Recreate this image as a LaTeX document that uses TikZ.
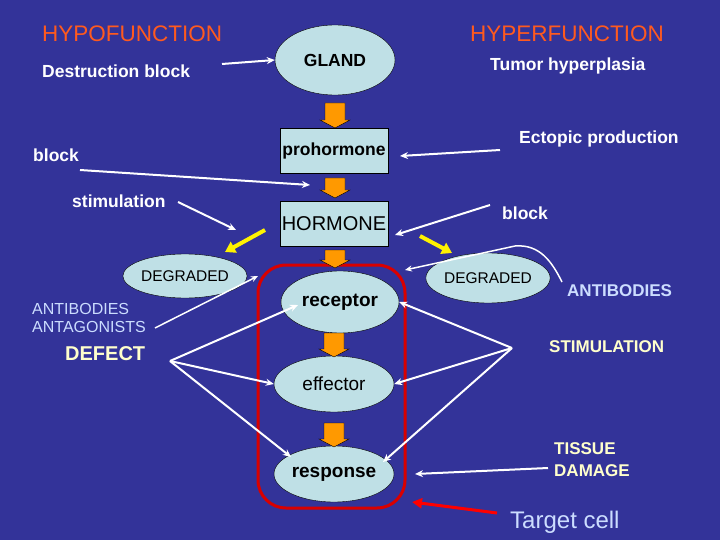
\documentclass[tikz,border=0pt]{standalone}
\usepackage{fontspec}
\setmainfont{Liberation Sans}
\usetikzlibrary{shapes.geometric,arrows.meta}
\definecolor{bg}{HTML}{333399}
\definecolor{box}{HTML}{BFE0E6}
\definecolor{lblue}{HTML}{CCDDFF}
\definecolor{lyel}{HTML}{FFFFCC}
\definecolor{hyp}{HTML}{FF5A1E}
\definecolor{org}{HTML}{FF9900}
\begin{document}
\begin{tikzpicture}[x=1pt,y=-1pt,
  ell/.style={ellipse,draw=black,fill=box,inner sep=0pt},
  rbox/.style={rectangle,draw=black,fill=box,inner sep=0pt},
  lab/.style={text=white,font=\fontsize{17.5}{20}\selectfont\bfseries,inner sep=0pt},
  arr/.style={white,line width=2pt,-{Stealth[length=8pt,width=7pt]}},
  yarr/.style={yellow,line width=4pt,-{Triangle[length=10pt,width=12pt]}},
  ttl/.style={text=hyp,font=\fontsize{22.5}{26}\selectfont,inner sep=0pt}]
\fill[bg] (0,0) rectangle (720,540);
\useasboundingbox (0,0) rectangle (720,540);
\newcommand\blockarr[3]{\fill[org,draw=black,line width=0.4pt] (#1-10,#2) -- (#1+10,#2) -- (#1+10,#3-8) -- (#1+15,#3-8) -- (#1,#3) -- (#1-15,#3-8) -- (#1-10,#3-8) -- cycle;}
% titles
\node[ttl,anchor=west] (hypo) at (42,34) {HYPOFUNCTION};
\node[ttl,anchor=west] (hyper) at (470,34) {HYPERFUNCTION};
% main chain
\node[ell,minimum width=120,minimum height=70,font=\fontsize{17.5}{20}\selectfont\bfseries] (gland) at (335,60) {GLAND};
\node[rbox,minimum width=108,minimum height=45,font=\fontsize{17.5}{20}\selectfont\bfseries] (pro) at (334,151) {prohormone};
\node[rbox,minimum width=108,minimum height=45,font=\fontsize{20}{24}\selectfont] (hor) at (334,224) {HORMONE};
\draw[red!85!black,line width=3pt,rounded corners=28pt] (258,265) rectangle (405,508);
\node[ell,minimum width=118,minimum height=62,font=\fontsize{19}{22}\selectfont\bfseries] (rec) at (340,302) {receptor};
\node[ell,minimum width=120,minimum height=56,font=\fontsize{19}{22}\selectfont] (eff) at (334,384) {effector};
\node[ell,minimum width=120,minimum height=56,font=\fontsize{19}{22}\selectfont\bfseries] (resp) at (334,474) {response};
\node[ell,minimum width=100,minimum height=44,font=\fontsize{15.5}{18}\selectfont] (degl) at (185,276) {DEGRADED};
\node[ell,minimum width=95,minimum height=50,font=\fontsize{15.5}{18}\selectfont] (degr) at (488,278) {DEGRADED};
\blockarr{335}{103}{128}
\blockarr{335}{178}{198}
\blockarr{335}{250}{268}
\blockarr{334}{333}{357}
\blockarr{334}{423}{447}
% labels
\node[lab,anchor=west] (destr) at (42,71) {Destruction block};
\node[lab,anchor=west] (tumor) at (490,66) {Tumor hyperplasia};
\node[lab,anchor=west] (ecto) at (519,139) {Ectopic production};
\node[lab,anchor=west] (blockl) at (33,155) {block};
\node[lab,anchor=west] (stim) at (72,201) {stimulation};
\node[lab,anchor=west] (blockr) at (502,213) {block};
\node[text=lblue,font=\fontsize{16}{18}\selectfont,anchor=west,align=left,inner sep=0pt] (antag) at (32,318) {ANTIBODIES\\ANTAGONISTS};
\node[text=lyel,font=\fontsize{20}{24}\selectfont\bfseries,anchor=west,inner sep=0pt] (defect) at (65,354) {DEFECT};
\node[text=lblue,font=\fontsize{17}{20}\selectfont\bfseries,anchor=west,inner sep=0pt] (antir) at (567,291) {ANTIBODIES};
\node[text=lyel,font=\fontsize{17}{20}\selectfont\bfseries,anchor=west,inner sep=0pt] (stimr) at (549,347) {STIMULATION};
\node[text=lyel,font=\fontsize{17}{22}\selectfont\bfseries,anchor=west,align=left,inner sep=0pt] (tissue) at (554,460) {TISSUE\\DAMAGE};
\node[text=lblue,font=\fontsize{24}{28}\selectfont,anchor=west,inner sep=0pt] (target) at (510,522) {Target cell};
% coordinates
\coordinate (defp) at (170,361);
\coordinate (stp) at (512,348);
\coordinate (boxtl) at (258,276);
\coordinate (boxtr) at (405,270);
\coordinate (destre) at (222,64);
\coordinate (ectow) at (500,150);
\coordinate (proe) at (400,156);
\coordinate (blockle) at (80,170);
\coordinate (prow) at (310,185);
\coordinate (stime) at (178,202);
\coordinate (horw) at (236,230);
\coordinate (blockrw) at (490,205);
\coordinate (hore) at (395,235);
\coordinate (tissw) at (548,468);
\coordinate (respe) at (415,474);
\coordinate (antirp) at (562,282);
% arrows
\draw[arr] (destre) -- (gland.west);
\draw[arr] (ectow) -- (proe);
\draw[arr] (blockle) -- (prow);
\draw[arr] (stime) -- (horw);
\draw[arr] (blockrw) -- (hore);
\draw[yarr] (265,230) -- (225,252);
\draw[yarr] (420,236) -- (452,253);
\draw[white,line width=1.5pt,-{Stealth[length=7pt,width=6pt]}] (155,328) -- (boxtl);
\draw[white,line width=1.5pt,-{Stealth[length=7pt,width=6pt]}] (antirp) .. controls (552,262) and (540,244) .. (515,246) -- (boxtr);
\draw[arr] (defp) -- (298,305);
\draw[arr] (defp) -- (eff.west);
\draw[arr] (defp) -- (291,457);
\draw[arr] (stp) -- (rec.east);
\draw[arr] (stp) -- (eff.east);
\draw[arr] (stp) -- (383,462);
\draw[arr] (tissw) -- (respe);
\draw[red,line width=3pt,-{Triangle[length=10pt,width=10pt]}] (497,513) -- (412,502);
\end{tikzpicture}
\end{document}
